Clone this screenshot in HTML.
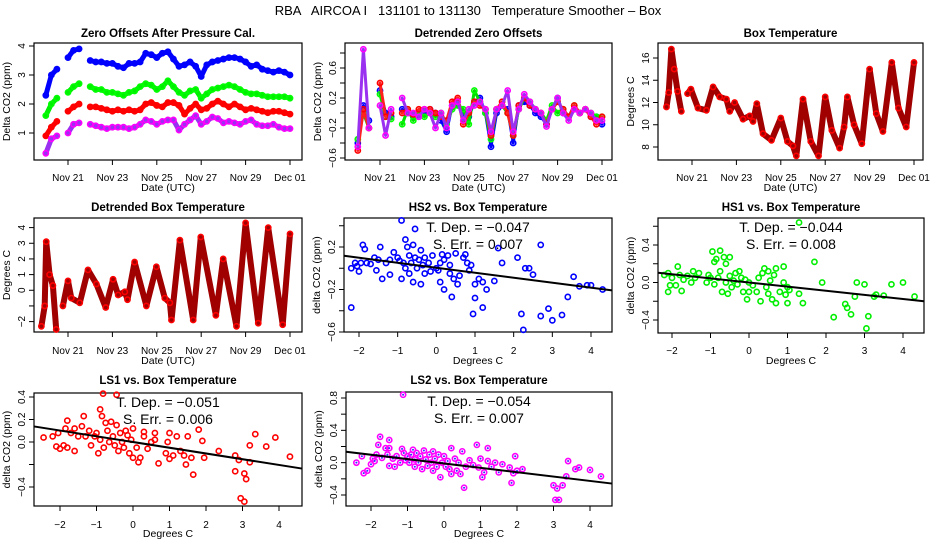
<!DOCTYPE html>
<html><head><meta charset="utf-8"><title>RBA AIRCOA Temperature Smoother</title>
<style>
html,body{margin:0;padding:0;background:#fff;}
svg{display:block;font-family:"Liberation Sans",Arial,sans-serif;}
</style></head>
<body>
<svg id="chart" width="936" height="540" viewBox="0 0 936 540" xmlns="http://www.w3.org/2000/svg">
<rect x="0" y="0" width="936" height="540" fill="#fff"/>
<text x="468" y="15" font-size="13" text-anchor="middle" xml:space="preserve">RBA   AIRCOA I   131101 to 131130   Temperature Smoother – Box</text>
</svg>
<script>
// ---------- data ----------
const zTimes = [-1,-0.75,-0.5,-0.25,0,0.25,0.5,0.75,1,1.25,1.5,1.75,2,2.25,2.5,2.75,3,3.25,3.5,3.75,4,4.25,4.5,4.75,5,5.25,5.5,5.75,6,6.25,6.5,6.75,7,7.25,7.5,7.75,8,8.25,8.5,8.75,9,9.25,9.5,9.75,10];
const zBlue = [2.3,3.0,3.2,null,3.6,3.85,3.9,null,3.5,3.45,3.45,3.4,3.4,3.3,3.25,3.4,3.4,3.45,3.75,3.7,3.6,3.75,3.8,3.55,3.3,3.35,3.45,3.3,2.95,3.35,3.45,3.5,3.55,3.6,3.6,3.55,3.45,3.3,3.35,3.2,3.15,3.1,3.15,3.1,3.0];
const zGreen = [1.6,2.0,2.2,null,2.4,2.6,2.7,null,2.6,2.5,2.5,2.4,2.4,2.35,2.3,2.4,2.45,2.6,2.7,2.65,2.5,2.6,2.8,2.6,2.4,2.3,2.45,2.5,2.2,2.35,2.5,2.55,2.6,2.65,2.6,2.5,2.4,2.35,2.35,2.3,2.25,2.25,2.25,2.25,2.2];
const zRed = [0.9,1.2,1.4,null,1.75,1.9,2.0,null,1.9,1.9,1.85,1.8,1.75,1.8,1.75,1.8,1.75,1.8,2.0,2.05,1.95,1.9,2.05,2.05,1.95,1.65,1.85,2.0,1.8,1.85,2.0,2.1,2.0,1.9,2.0,1.9,1.8,1.85,1.8,1.75,1.7,1.75,1.75,1.7,1.65];
const zPurple = [0.3,0.8,0.9,null,1.0,1.3,1.35,null,1.3,1.25,1.2,1.15,1.2,1.2,1.2,1.15,1.2,1.3,1.45,1.4,1.3,1.4,1.45,1.45,1.1,1.3,1.45,1.6,1.3,1.4,1.55,1.5,1.35,1.4,1.35,1.3,1.4,1.45,1.3,1.25,1.25,1.3,1.2,1.15,1.15];

const dBlue = [-0.4,0.1,-0.1,null,0.3,0.0,-0.05,null,0.05,0.0,-0.05,-0.05,0.0,0.05,0.0,-0.1,-0.25,0.1,0.15,0.0,-0.05,0.15,0.2,0.0,-0.45,0.0,0.1,0.05,-0.4,0.1,0.15,0.1,0.0,-0.05,-0.15,0.05,0.2,0.0,-0.05,0.05,0.0,0.05,-0.05,-0.05,-0.15];
const dGreen = [-0.35,0.0,-0.2,null,0.25,-0.05,-0.08,null,-0.15,0.05,-0.1,0.0,-0.05,0.0,-0.05,0.0,-0.15,0.05,0.1,0.05,-0.15,0.3,0.15,0.0,-0.35,0.05,0.1,0.0,-0.3,0.05,0.2,0.15,0.05,0.0,-0.1,0.1,0.0,0.05,-0.05,0.1,0.0,0.05,0.0,-0.05,-0.05];
const dRed = [-0.5,0.05,-0.2,null,0.4,-0.05,0.0,null,0.0,0.05,-0.02,0.05,0.05,0.05,0.0,-0.05,-0.1,0.15,0.2,-0.15,0.0,0.15,0.1,0.05,-0.3,0.05,0.15,0.0,-0.3,0.1,0.2,0.1,0.05,0.0,-0.15,0.05,0.15,0.05,-0.05,0.1,0.0,0.05,-0.05,-0.15,-0.05];
const dPurple = [-0.45,0.85,-0.2,null,0.1,-0.3,0.05,null,0.2,0.0,0.0,-0.05,0.05,0.0,-0.2,0.0,-0.2,0.1,0.15,-0.1,0.05,0.1,0.15,0.05,-0.25,0.05,0.1,0.3,-0.25,0.05,0.25,0.15,0.05,0.0,-0.18,0.05,0.2,0.0,-0.1,0.05,0.0,0.05,0.0,-0.1,-0.1];

const bTimes = [-1.15,-1.05,-0.93,-0.8,-0.65,-0.48,-0.35,-0.2,-0.05,0.27,0.65,0.95,1.25,1.55,1.7,1.92,2.3,2.6,2.75,2.92,3.2,3.58,4.0,4.3,4.55,4.7,5.0,5.35,5.7,6.0,6.3,6.65,6.85,7.0,7.3,7.65,8.0,8.3,8.6,9.0,9.3,9.65,10.0];
const bTemp = [11.6,12.9,16.8,15.0,13.0,11.2,null,12.8,13.2,11.5,11.3,13.4,12.5,12.3,11.2,12.0,10.5,10.8,10.3,11.9,9.2,8.6,10.6,8.5,8.1,7.2,12.3,8.5,7.2,12.5,9.5,7.9,9.8,12.5,10.0,8.3,15.0,11.0,9.4,15.6,11.5,9.8,15.6];

const dtTimes = [-1.2,-1.05,-0.98,-0.83,-0.68,-0.53,-0.4,-0.23,0.0,0.15,0.53,0.9,1.28,1.7,2.03,2.26,2.56,2.68,3.0,3.53,3.98,4.36,4.59,4.66,5.04,5.64,5.98,6.66,6.99,7.59,8.0,8.57,9.02,9.67,10.0];
const dtTemp = [-2.3,-1.0,3.1,1.0,0.3,-2.5,null,-1.0,0.6,-0.5,-0.8,1.3,0.4,-1.1,0.7,-0.3,-0.1,-0.6,1.8,-1.0,1.5,-0.5,-0.8,-1.9,3.2,-1.9,3.4,-1.6,2.0,-2.3,4.3,-2.1,4.0,-2.2,3.6];

const hs2X = [-2.2,-2.1,-2.05,-2.0,-1.95,-1.9,-1.85,-1.8,-1.7,-1.6,-1.55,-1.5,-1.45,-1.4,-1.3,-1.2,-1.2,-1.1,-1.0,-0.95,-0.9,-0.9,-0.85,-0.8,-0.8,-0.75,-0.7,-0.7,-0.65,-0.6,-0.6,-0.55,-0.55,-0.5,-0.45,-0.4,-0.4,-0.35,-0.3,-0.3,-0.2,-0.15,-0.1,0.0,0.05,0.1,0.1,0.15,0.2,0.2,0.3,0.35,0.35,0.4,0.45,0.5,0.55,0.6,0.7,0.75,0.8,0.85,0.9,0.95,1.0,1.0,1.1,1.2,1.2,1.3,1.5,1.6,1.7,2.1,2.2,2.25,2.3,2.4,2.5,2.7,2.7,2.9,3.0,3.25,3.4,3.55,3.7,3.9,4.0,4.3,-2.2];
const hs2Y = [0.0,0.05,0.02,-0.03,0.05,0.22,0.18,0.05,0.04,0.1,-0.02,0.08,0.2,-0.1,0.05,0.08,-0.06,0.15,0.1,0.07,0.45,-0.1,0.05,0.27,0.0,0.2,0.12,-0.05,0.05,0.22,-0.13,0.37,0.1,0.0,0.08,0.17,-0.15,0.03,0.1,-0.05,0.05,-0.03,0.12,0.0,-0.02,0.05,-0.13,0.13,0.08,-0.2,0.12,-0.05,0.03,-0.27,-0.1,0.14,-0.15,-0.07,0.1,0.13,0.05,-0.02,0.03,-0.43,-0.15,-0.28,-0.1,-0.37,-0.13,-0.2,-0.12,0.19,0.05,0.1,-0.43,-0.58,0.0,0.0,-0.06,0.22,-0.45,-0.38,-0.49,-0.44,-0.27,-0.08,-0.17,-0.16,-0.16,-0.2,-0.37];

const hs1X = [-2.2,-2.1,-2.05,-2.1,-2.0,-1.9,-1.85,-1.8,-1.75,-1.7,-1.6,-1.5,-1.45,-1.4,-1.3,-1.1,-1.05,-1.0,-0.95,-0.9,-0.9,-0.85,-0.8,-0.75,-0.75,-0.7,-0.65,-0.6,-0.6,-0.55,-0.5,-0.5,-0.45,-0.4,-0.35,-0.3,-0.25,-0.2,-0.15,-0.1,-0.05,0.0,0.0,0.1,0.2,0.25,0.3,0.35,0.4,0.45,0.5,0.5,0.55,0.6,0.65,0.7,0.7,0.8,0.9,0.9,0.95,1.0,1.0,1.05,1.3,1.3,1.4,1.7,1.9,2.2,2.5,2.55,2.65,2.75,2.8,3.0,3.05,3.1,3.25,3.3,3.5,3.7,4.0,4.3];
const hs1Y = [0.08,0.1,-0.03,-0.1,0.05,-0.03,0.17,0.08,-0.09,0.03,0.07,0.0,0.12,0.05,0.1,0.0,0.08,0.05,0.33,0.22,-0.02,0.25,0.05,0.34,0.12,-0.1,0.27,0.2,0.0,-0.12,0.27,0.07,-0.05,0.02,0.1,-0.02,0.12,0.05,-0.1,0.03,-0.18,0.0,-0.1,-0.03,-0.1,0.05,-0.2,0.1,0.15,-0.05,0.12,-0.12,0.02,-0.18,0.08,0.15,-0.22,-0.1,0.17,0.0,-0.13,-0.22,-0.05,-0.08,0.64,-0.12,-0.22,0.22,0.0,-0.37,-0.23,-0.27,-0.34,-0.15,0.0,-0.02,-0.49,-0.36,-0.15,-0.13,-0.14,-0.02,0.0,-0.15];

const ls1X = [-2.45,-2.2,-2.1,-2.05,-2.0,-1.9,-1.85,-1.8,-1.8,-1.7,-1.6,-1.6,-1.5,-1.4,-1.35,-1.3,-1.2,-1.15,-1.05,-1.0,-0.95,-0.9,-0.9,-0.85,-0.82,-0.8,-0.75,-0.7,-0.65,-0.6,-0.55,-0.5,-0.45,-0.45,-0.4,-0.35,-0.3,-0.25,-0.2,-0.15,-0.1,-0.05,0.0,0.0,0.1,0.15,0.2,0.3,0.3,0.4,0.5,0.6,0.6,0.7,0.9,0.95,1.0,1.0,1.1,1.2,1.3,1.4,1.45,1.5,1.6,1.65,1.8,1.9,1.95,2.35,2.8,2.8,2.9,2.95,3.05,3.1,3.05,3.2,3.2,3.35,3.65,3.9,4.3];
const ls1Y = [0.04,0.05,-0.04,0.08,-0.06,-0.03,0.12,0.19,-0.05,0.08,-0.08,0.12,0.05,0.14,0.23,0.05,0.1,-0.03,0.05,0.08,-0.1,0.29,0.02,0.23,0.43,-0.05,0.17,0.1,0.0,0.18,0.05,-0.03,0.42,0.15,-0.08,0.08,0.0,-0.05,0.1,0.06,-0.1,0.02,0.12,-0.14,-0.05,-0.18,-0.14,0.05,0.09,-0.06,0.0,0.08,0.02,-0.19,-0.1,0.0,0.08,-0.15,-0.12,0.05,-0.08,-0.12,-0.2,0.05,-0.14,-0.29,0.11,0.01,-0.14,-0.08,-0.26,-0.12,-0.16,-0.5,-0.28,-0.33,-0.53,-0.03,-0.18,0.07,-0.04,0.04,-0.13];

const ls2X = [-2.4,-2.25,-2.2,-2.1,-2.0,-1.95,-1.9,-1.85,-1.8,-1.75,-1.7,-1.6,-1.55,-1.5,-1.5,-1.5,-1.4,-1.35,-1.3,-1.2,-1.15,-1.12,-1.1,-1.05,-1.0,-0.95,-0.9,-0.85,-0.8,-0.8,-0.75,-0.7,-0.65,-0.6,-0.55,-0.5,-0.45,-0.4,-0.35,-0.3,-0.3,-0.25,-0.2,-0.15,-0.1,-0.05,0.0,0.05,0.1,0.15,0.2,0.2,0.3,0.35,0.4,0.45,0.5,0.55,0.6,0.7,0.8,0.9,0.95,1.0,1.05,1.1,1.2,1.2,1.3,1.4,1.5,1.6,1.8,1.85,1.9,1.95,2.0,2.15,3.0,3.05,3.1,3.15,3.25,3.35,3.4,3.6,3.7,4.0,4.3];
const ls2Y = [0.0,0.08,-0.13,-0.1,-0.02,0.05,0.02,0.1,0.22,0.32,0.06,0.18,0.1,0.28,0.18,-0.04,0.05,-0.05,0.08,0.0,0.17,0.84,0.12,0.03,0.08,0.0,0.1,0.16,0.04,-0.05,0.12,0.0,0.08,-0.08,0.15,0.04,-0.04,0.1,0.0,0.14,-0.1,0.05,-0.05,0.1,-0.18,0.0,0.08,-0.05,0.02,-0.08,0.18,-0.14,0.05,-0.1,0.0,-0.14,0.14,-0.31,-0.05,0.03,-0.03,0.22,-0.06,0.05,-0.18,-0.12,0.02,0.18,-0.05,0.0,-0.12,-0.02,-0.06,-0.25,-0.13,0.08,-0.1,-0.08,-0.28,-0.46,-0.32,-0.46,-0.28,-0.17,0.02,-0.08,-0.06,-0.09,-0.17];

const fitSlope = [-0.047,-0.044,-0.051,-0.054];
const fitIntercept = [0.005,0.0,0.0,-0.01];
const fitDepLabels = ["−0.047","−0.044","−0.051","−0.054"];
const fitErrLabels = ["0.007","0.008","0.006","0.007"];
const dateTicks = [0,2,4,6,8,10];
const dateTickLabels = ["Nov 21","Nov 23","Nov 25","Nov 27","Nov 29","Dec 01"];
const degTicks = [-2,-1,0,1,2,3,4];

// ---------- drawing ----------
const NS = "http://www.w3.org/2000/svg";
const svg = document.getElementById('chart');
function el(tag, attrs, parent){
  const e = document.createElementNS(NS, tag);
  for (const k in attrs) e.setAttribute(k, attrs[k]);
  (parent || svg).appendChild(e);
  return e;
}
function lin(d0, d1, p0, p1){ const f = v => p0 + (v - d0) * (p1 - p0) / (d1 - d0); f.inv = p => d0 + (p - p0) * (d1 - d0) / (p1 - p0); return f; }
function fmt(v){ return (v < 0 ? "−" : "") + Math.abs(v); }
let tickDigits = 0;
function formatTick(v){ const s = Math.abs(v).toFixed(tickDigits); return (v < 0 ? "−" : "") + s; }

function makePanel(name, box, title, xlabel, ylabel, row){
  const g = el('g', {});
  
  
  const r = el('rect', {x: box.x0, y: box.y0, width: box.x1 - box.x0, height: box.y1 - box.y0, fill: 'none', stroke: '#000', 'stroke-width': 1.2}, g);
  
  
  const t = el('text', {x: (box.x0 + box.x1) / 2, y: row.title, 'font-size': 11.5, 'font-weight': 'bold', 'text-anchor': 'middle'}, g);
  t.textContent = title;
  
  
  const xl = el('text', {x: (box.x0 + box.x1) / 2, y: row.xlab, 'font-size': 10.5, 'text-anchor': 'middle'}, g);
  xl.textContent = xlabel;
  
  
  const yc = (box.y0 + box.y1) / 2;
  const yl = el('text', {x: box.x0 - 24, y: yc, 'font-size': 10.5, 'text-anchor': 'middle', transform: `rotate(-90 ${box.x0 - 24} ${yc})`}, g);
  yl.textContent = ylabel;
  
  
  return g;
}
function xAxis(g, box, xs, ticks, labels, row){
  ticks.forEach((tv, i) => {
    const x = xs(tv);
    const tk = el('line', {x1: x, x2: x, y1: box.y1, y2: box.y1 + 5, stroke: '#000'}, g);
    
    
    const lb = el('text', {x: x, y: row.xtick, 'font-size': 10, 'text-anchor': 'middle'}, g);
    lb.textContent = labels[i];
    
    
  });
}
function yAxis(g, box, ys, ticks, labeled){
  ticks.forEach(tv => {
    const y = ys(tv);
    const tk = el('line', {x1: box.x0 - 5, x2: box.x0, y1: y, y2: y, stroke: '#000'}, g);
    
    
    if (labeled.indexOf(tv) >= 0) {
      const lx = box.x0 - 9;
      const lb = el('text', {x: lx, y: y, 'font-size': 10, 'text-anchor': 'middle', transform: `rotate(-90 ${lx} ${y})`}, g);
      lb.textContent = formatTick(tv);
      
      
    }
  });
}

function series(g, xs, ys, times, vals, color, lineColor, name, lw){
  let d = "", broken = true;
  times.forEach((t, i) => {
    const v = vals[i];
    if (v === null || v === undefined) { broken = true; return; }
    d += (broken ? "M" : "L") + xs(t).toFixed(1) + "," + ys(v).toFixed(1);
    broken = false;
  });
  const p = el('path', {d: d, fill: 'none', stroke: lineColor, 'stroke-width': lw, 'stroke-linejoin': 'round', 'stroke-linecap': 'round'}, g);
  
  
  times.forEach((t, i) => {
    const v = vals[i];
    if (v === null || v === undefined) return;
    const c = el('circle', {cx: xs(t), cy: ys(v), r: 2.6, fill: 'none', stroke: color, 'stroke-width': 1.6}, g);
    
    
  });
}
function scatter(g, xs, ys, X, Y, color, inner, name){
  X.forEach((xv, i) => {
    const c = el('circle', {cx: xs(xv), cy: ys(Y[i]), r: 2.6, fill: 'none', stroke: color, 'stroke-width': 1.6}, g);
    
    
    if (inner) {
      const c2 = el('circle', {cx: xs(xv), cy: ys(Y[i]), r: 1, fill: inner}, g);
      
      
    }
  });
}
function fit(g, box, xs, ys, k){
  const xa = xs.inv(box.x0), xb = xs.inv(box.x1);
  const ln = el('line', {x1: box.x0, y1: ys(fitIntercept[k] + fitSlope[k] * xa), x2: box.x1, y2: ys(fitIntercept[k] + fitSlope[k] * xb), stroke: '#000', 'stroke-width': 2}, g);
  
  
  const cx = (box.x0 + box.x1) / 2;
  const t1 = el('text', {x: cx, y: box.y0 + 14, 'font-size': 14, 'text-anchor': 'middle'}, g);
  t1.setAttribute('xml:space', 'preserve');
  t1.textContent = "T. Dep. =  " + fitDepLabels[k];
  
  
  const t2 = el('text', {x: cx, y: box.y0 + 31, 'font-size': 14, 'text-anchor': 'middle'}, g);
  t2.textContent = "S. Err. = " + fitErrLabels[k];
  
  
}

const R1 = {title: 37, xtick: 181, xlab: 191};
const R2 = {title: 211, xtick: 354, xlab: 364};
const R3 = {title: 384, xtick: 528, xlab: 537};

// Panel 1
let box = {x0: 34, x1: 302, y0: 43, y1: 160};
let g = makePanel('zero-offsets-panel', box, 'Zero Offsets After Pressure Cal.', 'Date (UTC)', 'Delta CO2 (ppm)', R1);
let xs = lin(0, 10, 68, 290), ys = lin(1, 4, 133, 46);
tickDigits = 0; yAxis(g, box, ys, [1,2,3,4], [1,2,3,4]); xAxis(g, box, xs, dateTicks, dateTickLabels, R1);
series(g, xs, ys, zTimes, zBlue, '#0000ff', '#0000ff', 'hs2-offset', 5);
series(g, xs, ys, zTimes, zGreen, '#00ff00', '#00ee00', 'hs1-offset', 5);
series(g, xs, ys, zTimes, zRed, '#ff0000', '#ff0000', 'ls1-offset', 5);
series(g, xs, ys, zTimes, zPurple, '#ff00ff', '#9a30f0', 'ls2-offset', 5);

// Panel 2
box = {x0: 345, x1: 612, y0: 43, y1: 160};
g = makePanel('detrended-offsets-panel', box, 'Detrended Zero Offsets', 'Date (UTC)', 'Delta CO2 (ppm)', R1);
xs = lin(0, 10, 380, 602); ys = lin(-0.6, 0.6, 158, 68);
tickDigits = 1; yAxis(g, box, ys, [-0.6,-0.4,-0.2,0,0.2,0.4,0.6,0.8], [-0.6,-0.2,0.2,0.6]); xAxis(g, box, xs, dateTicks, dateTickLabels, R1);
series(g, xs, ys, zTimes, dBlue, '#0000ff', '#0000ff', 'hs2-detrended', 3);
series(g, xs, ys, zTimes, dGreen, '#00ff00', '#00dd00', 'hs1-detrended', 3);
series(g, xs, ys, zTimes, dRed, '#ff0000', '#ff2020', 'ls1-detrended', 3);
series(g, xs, ys, zTimes, dPurple, '#ff00ff', '#9a30f0', 'ls2-detrended', 3);

// Panel 3
box = {x0: 658, x1: 923, y0: 43, y1: 160};
g = makePanel('box-temperature-panel', box, 'Box Temperature', 'Date (UTC)', 'Degrees C', R1);
xs = lin(0, 10, 692, 914); ys = lin(8, 16, 147, 58);
tickDigits = 0; yAxis(g, box, ys, [8,10,12,14,16], [8,10,12,14,16]); xAxis(g, box, xs, dateTicks, dateTickLabels, R1);
series(g, xs, ys, bTimes, bTemp, '#ff0000', '#a00000', 'box-temperature', 6);

// Panel 4
box = {x0: 34, x1: 302, y0: 218, y1: 332};
g = makePanel('detrended-box-temperature-panel', box, 'Detrended Box Temperature', 'Date (UTC)', 'Degrees C', R2);
xs = lin(0, 10, 68, 290); ys = lin(-2, 4, 321.6, 227.6);
tickDigits = 0; yAxis(g, box, ys, [-2,-1,0,1,2,3,4], [-2,0,1,2,3,4]); xAxis(g, box, xs, dateTicks, dateTickLabels, R2);
series(g, xs, ys, dtTimes, dtTemp, '#ff0000', '#a00000', 'detrended-temperature', 6);

// Panel 5
box = {x0: 344, x1: 612, y0: 218, y1: 332};
g = makePanel('hs2-vs-temperature-panel', box, 'HS2 vs. Box Temperature', 'Degrees C', 'delta CO2 (ppm)', R2);
xs = lin(-2, 4, 359, 591); ys = lin(-0.6, 0.2, 332, 247);
tickDigits = 1; yAxis(g, box, ys, [-0.6,-0.4,-0.2,0,0.2,0.4], [-0.6,-0.2,0.2]); xAxis(g, box, xs, degTicks, degTicks.map(fmt), R2);
scatter(g, xs, ys, hs2X, hs2Y, '#0000ff', null, 'hs2');
fit(g, box, xs, ys, 0);

// Panel 6
box = {x0: 658, x1: 924, y0: 218, y1: 333};
g = makePanel('hs1-vs-temperature-panel', box, 'HS1 vs. Box Temperature', 'Degrees C', 'delta CO2 (ppm)', R2);
xs = lin(-2, 4, 672, 903); ys = lin(-0.4, 0.4, 320, 245);
tickDigits = 1; yAxis(g, box, ys, [-0.4,-0.2,0,0.2,0.4,0.6], [-0.4,0,0.4]); xAxis(g, box, xs, degTicks, degTicks.map(fmt), R2);
scatter(g, xs, ys, hs1X, hs1Y, '#00ee00', null, 'hs1');
fit(g, box, xs, ys, 1);

// Panel 7
box = {x0: 34, x1: 302, y0: 393, y1: 506};
g = makePanel('ls1-vs-temperature-panel', box, 'LS1 vs. Box Temperature', 'Degrees C', 'delta CO2 (ppm)', R3);
xs = lin(-2, 4, 60, 279); ys = lin(-0.4, 0.4, 487, 397);
tickDigits = 1; yAxis(g, box, ys, [-0.4,-0.2,0,0.2,0.4], [-0.4,0,0.2,0.4]); xAxis(g, box, xs, degTicks, degTicks.map(fmt), R3);
scatter(g, xs, ys, ls1X, ls1Y, '#ff0000', null, 'ls1');
fit(g, box, xs, ys, 2);

// Panel 8
box = {x0: 346, x1: 612, y0: 392, y1: 506};
g = makePanel('ls2-vs-temperature-panel', box, 'LS2 vs. Box Temperature', 'Degrees C', 'delta CO2 (ppm)', R3);
xs = lin(-2, 4, 371, 590); ys = lin(-0.4, 0.8, 495, 398);
tickDigits = 1; yAxis(g, box, ys, [-0.4,-0.2,0,0.2,0.4,0.6,0.8], [-0.4,0,0.4,0.8]); xAxis(g, box, xs, degTicks, degTicks.map(fmt), R3);
scatter(g, xs, ys, ls2X, ls2Y, '#ff00ff', '#3030ff', 'ls2');
fit(g, box, xs, ys, 3);
</script>
</body></html>
